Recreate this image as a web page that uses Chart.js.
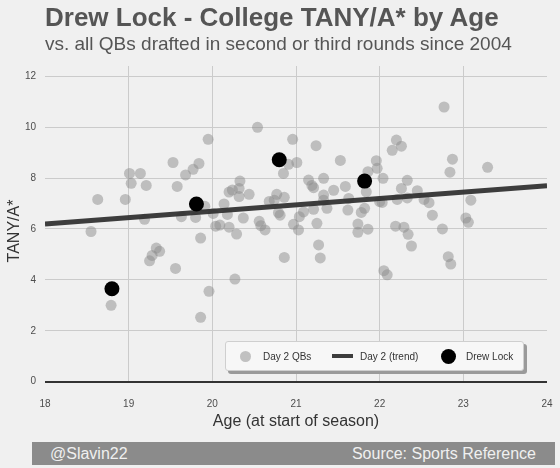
<!DOCTYPE html>
<html>
<head>
<meta charset="utf-8">
<script src="https://cdn.jsdelivr.net/npm/chart.js@4.4.0/dist/chart.umd.min.js"></script>
<style>
  html, body { margin:0; padding:0; background:#f0f0f0; }
  #wrap { position:relative; width:560px; height:468px; overflow:hidden; background:#f0f0f0; font-family:"Liberation Sans", Arial, sans-serif; }
  #c { position:absolute; left:0; top:0; }
  .t { position:absolute; white-space:nowrap; }
  #title { left:45px; top:4px; font-size:26px; line-height:26px; font-weight:bold; color:#555; }
  #subtitle { left:45px; top:34px; font-size:19px; line-height:19px; color:#555; }
  #ylab { left:-36px; top:223px; width:100px; height:16px; font-size:16px; line-height:16px; text-align:center; color:#333; transform:rotate(-90deg); }
  #xlab { left:196px; top:413px; width:200px; font-size:16px; line-height:16px; text-align:center; color:#333; }
  #footer { position:absolute; left:32px; top:442px; width:523px; height:23px; background:#8b8b8b; }
  #fl { left:50px; top:446px; font-size:16px; line-height:16px; color:#f0f0f0; }
  #fr { right:24px; top:446px; font-size:16px; line-height:16px; color:#f0f0f0; }
  #legend { position:absolute; left:225px; top:341px; width:297px; height:28px; background:#f7f7f7; border:1px solid #cfcfcf; border-radius:3px; box-shadow:3px 3px 0 #9a9a9a; }
  .lt { position:absolute; font-size:10px; line-height:10px; color:#333; white-space:nowrap; }
  .dot { position:absolute; border-radius:50%; }
</style>
</head>
<body>
<div id="wrap">
  <canvas id="c" width="560" height="468"></canvas>
  <div class="t" id="title">Drew Lock - College TANY/A* by Age</div>
  <div class="t" id="subtitle">vs. all QBs drafted in second or third rounds since 2004</div>
  <div class="t" id="ylab">TANY/A*</div>
  <div class="t" id="xlab">Age (at start of season)</div>
  <div id="legend">
    <div class="dot" style="left:14px;top:9px;width:11px;height:11px;background:rgba(140,140,140,0.5);"></div>
    <div class="lt" style="left:37px;top:10px;">Day 2 QBs</div>
    <div style="position:absolute;left:106px;top:12px;width:21px;height:4px;background:#3d3d3d;"></div>
    <div class="lt" style="left:134px;top:10px;">Day 2 (trend)</div>
    <div class="dot" style="left:215px;top:7px;width:15px;height:15px;background:#000;"></div>
    <div class="lt" style="left:240px;top:10px;">Drew Lock</div>
  </div>
  <div id="footer"></div>
  <div class="t" id="fl">@Slavin22</div>
  <div class="t" id="fr">Source: Sports Reference</div>
</div>
<script>
const qbAge = [18.55,18.63,18.79,18.96,19.01,19.03,19.14,19.21,19.19,19.25,
  19.28,19.33,19.37,19.53,19.56,19.58,19.63,19.68,19.77,19.80,
  19.84,19.86,19.86,19.91,19.95,19.96,20.01,20.04,20.09,20.14,
  20.18,20.20,20.20,20.24,20.29,20.27,20.32,20.33,20.32,20.37,
  20.44,20.54,20.56,20.58,20.63,20.68,20.74,20.77,20.79,20.81,
  20.85,20.86,20.86,20.91,20.96,21.01,20.97,21.03,21.04,21.09,
  21.15,21.19,21.21,21.21,21.24,21.25,21.27,21.29,21.33,21.33,
  21.33,21.37,21.45,21.53,21.59,21.63,21.62,21.74,21.74,21.78,
  21.82,21.84,21.86,21.86,21.96,21.97,22.04,22.00,22.03,22.05,
  22.09,22.15,22.20,22.26,22.19,22.21,22.26,22.29,22.33,22.33,
  22.34,22.38,22.45,22.53,22.59,22.63,22.75,22.77,22.82,22.85,
  22.84,22.87,23.03,23.06,23.09,23.29];
const qbTany = [5.90,7.16,3.00,7.16,8.18,7.79,8.18,7.71,6.38,4.75,
  4.96,5.25,5.12,8.61,4.45,7.67,6.48,8.12,8.34,6.45,
  8.57,5.64,2.53,6.89,9.52,3.55,6.61,6.11,6.15,6.98,
  6.57,6.07,7.45,7.53,5.80,4.03,7.59,7.88,7.27,6.43,
  7.36,9.99,6.30,6.13,5.96,7.08,7.13,7.36,6.64,6.54,
  8.18,7.24,4.88,8.54,9.52,8.61,6.18,5.96,6.48,6.67,
  7.92,7.71,7.62,6.77,9.27,6.22,5.37,4.86,7.99,7.33,
  7.13,6.81,7.52,8.69,7.67,7.20,6.74,6.19,5.87,6.65,
  6.81,7.46,8.25,5.99,8.68,8.38,7.99,7.07,7.04,4.36,
  4.20,9.09,9.49,9.25,6.11,7.16,7.59,6.07,7.91,7.22,
  5.79,5.33,7.50,7.16,7.03,6.54,6.00,10.79,4.91,4.62,
  8.23,8.74,6.43,6.26,7.13,8.42];
const lockAge = [18.80, 19.81, 20.80, 21.82];
const lockTany = [3.65, 6.98, 8.72, 7.88];
const trendAge = [18, 24];
const trendTany = [6.19, 7.70];
const xTicks = [18, 19, 20, 21, 22, 23, 24];
const yTicks = [0, 2, 4, 6, 8, 10, 12];

const toPts = (xs, ys) => xs.map((x, i) => ({x: x, y: ys[i]}));

new Chart(document.getElementById('c'), {
  type: 'scatter',
  data: {
    datasets: [
      { label: 'Drew Lock', data: toPts(lockAge, lockTany), order: 0,
        pointRadius: 7.5, pointBackgroundColor: '#000', pointBorderWidth: 0, pointHoverRadius: 7.5 },
      { type: 'line', label: 'Day 2 (trend)', data: toPts(trendAge, trendTany), order: 1,
        borderColor: 'rgba(51,51,51,0.95)', borderWidth: 5, pointRadius: 0, fill: false, borderCapStyle: 'butt' },
      { label: 'Day 2 QBs', data: toPts(qbAge, qbTany), order: 2,
        pointRadius: 5.5, pointBackgroundColor: 'rgba(140,140,140,0.5)', pointBorderWidth: 0, pointHoverRadius: 5.5 }
    ]
  },
  options: {
    responsive: false,
    animation: false,
    events: [],
    layout: { padding: { left: 0, right: 13, top: 66, bottom: 0 } },
    plugins: { legend: { display: false }, tooltip: { enabled: false }, title: { display: false } },
    scales: {
      x: {
        type: 'linear', min: 18, max: 24,
        afterBuildTicks: (s) => { s.ticks = xTicks.map(v => ({value: v})); },
        afterFit: (s) => { s.height = 86.3; s.paddingLeft = 0; s.paddingRight = 0; },
        ticks: { font: { family: 'Liberation Sans', size: 10 }, color: '#4d4d4d', padding: 17, maxRotation: 0 },
        grid: { drawTicks: false, tickLength: 0, lineWidth: 1,
          color: (ctx) => (ctx.tick && (ctx.tick.value === 18 || ctx.tick.value === 24)) ? 'rgba(0,0,0,0)' : '#cbcbcb' },
        border: { display: false }
      },
      y: {
        type: 'linear', min: 0, max: 12.4,
        afterBuildTicks: (s) => { s.ticks = yTicks.map(v => ({value: v})); },
        afterFit: (s) => { s.width = 45; s.paddingTop = 0; s.paddingBottom = 0; },
        ticks: { font: { family: 'Liberation Sans', size: 10 }, color: '#4d4d4d', padding: 9 },
        grid: { drawTicks: false, tickLength: 0,
          color: (ctx) => (ctx.tick && ctx.tick.value === 0) ? '#333' : '#cbcbcb',
          lineWidth: (ctx) => (ctx.tick && ctx.tick.value === 0) ? 2 : 1 },
        border: { display: false }
      }
    }
  }
});
</script>
</body>
</html>
